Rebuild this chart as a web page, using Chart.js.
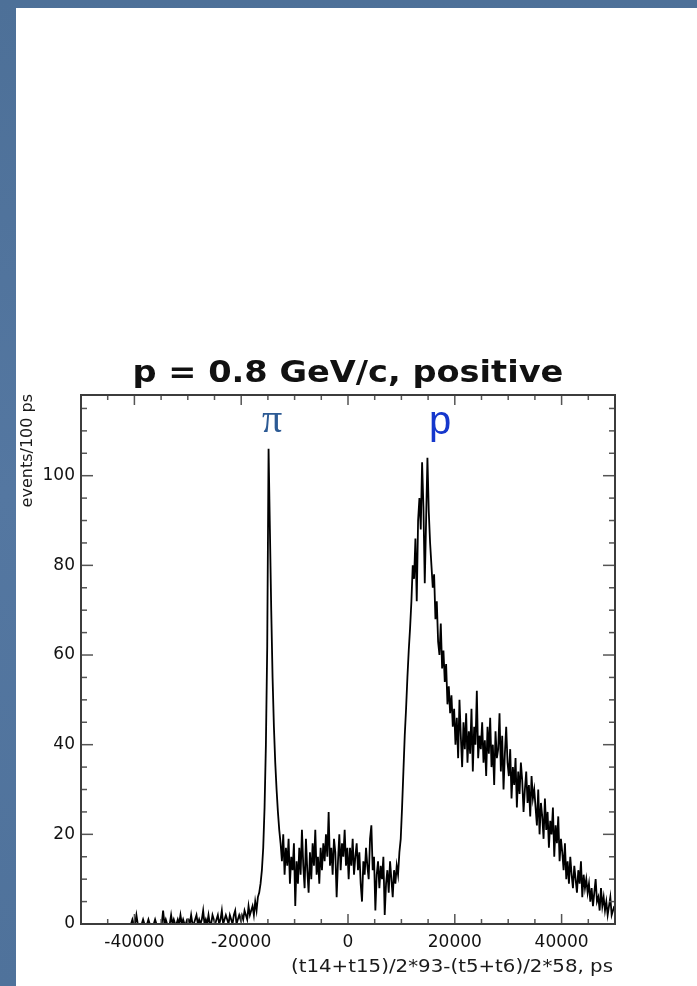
<!DOCTYPE html>
<html>
<head>
<meta charset="utf-8">
<script src="https://cdn.jsdelivr.net/npm/chart.js@4.4.1/dist/chart.umd.min.js"></script>
<style>
  html, body { margin: 0; padding: 0; }
  body { width: 697px; height: 986px; overflow: hidden; position: relative;
         background: linear-gradient(180deg, #4d7098 0%, #5477a1 50%, #4f729b 100%); }
  #panel { position: absolute; left: 16px; top: 8px; right: 0; bottom: 0; background: #fff; }
  #c { position: absolute; left: 0; top: 0; }
</style>
</head>
<body>
<div id="panel"></div>
<canvas id="c" width="697" height="986"></canvas>
<script>
// ─── DATA ───
// histogram in 250 ps steps (bin centres from -49875 ps)
const binStart = -49875;
const binWidth = 250;
const counts = [
    // -50000 .. -45000
    0, 0, 0, 0, 0, 0, 0, 0, 0, 0, 0, 0, 0, 0, 0, 0, 0, 0, 0, 0,
    // -45000 .. -40000
    0, 0, 0, 0, 0, 0, 0, 0, 0, 0, 0, 0, 0, 0, 0, 0, 0, 0, 1, 0,
    // -40000 .. -35000
    0, 2, 0, 0, 0, 0, 1, 0, 0, 0, 1, 0, 0, 0, 0, 1, 0, 0, 0, 0,
    // -35000 .. -30000
    0, 3, 0, 1, 0, 0, 0, 2, 0, 1, 0, 0, 1, 0, 2, 0, 1, 0, 0, 1,
    // -30000 .. -25000
    1, 0, 2, 0, 0, 1, 2, 0, 1, 0, 1, 3, 0, 1, 0, 2, 0, 0, 2, 1,
    // -25000 .. -20000
    0, 1, 2, 0, 1, 3, 0, 1, 2, 1, 0, 2, 1, 0, 2, 3, 0, 1, 2, 1,
    // -20000 .. -15000
    2, 1, 3, 2, 1, 4, 2, 3, 4, 2, 5, 3, 6, 7, 9, 12, 17, 26, 40, 62,
    // -15000 .. -10000
    106, 88, 70, 55, 44, 36, 30, 25, 21, 18, 14, 20, 11, 17, 13, 19, 9, 15, 12, 18,
    // -10000 .. -5000
    4, 14, 9, 17, 11, 21, 13, 8, 19, 12, 7, 16, 10, 18, 13, 21, 11, 15, 9, 17,
    // -5000 .. 0
    12, 18, 14, 20, 15, 25, 13, 17, 11, 19, 16, 6, 14, 20, 12, 18, 15, 21, 13, 17,
    // 0 .. 5000
    10, 17, 13, 19, 11, 15, 18, 12, 16, 9, 5, 14, 11, 17, 13, 10, 19, 22, 12, 15,
    // 5000 .. 10000
    3, 11, 14, 8, 13, 10, 15, 2, 9, 12, 7, 14, 10, 6, 12, 9, 13, 11, 16, 19,
    // 10000 .. 15000
    26, 34, 42, 48, 55, 61, 66, 72, 80, 77, 86, 72, 90, 95, 88, 103, 93, 76, 90, 104,
    // 15000 .. 20000
    92, 85, 80, 75, 78, 68, 72, 63, 60, 67, 57, 61, 54, 58, 49, 53, 47, 51, 44, 48,
    // 20000 .. 25000
    40, 46, 37, 50, 42, 35, 45, 39, 47, 36, 43, 38, 48, 34, 44, 40, 52, 37, 42, 39,
    // 25000 .. 30000
    45, 36, 41, 33, 44, 38, 46, 35, 40, 31, 43, 37, 39, 47, 34, 42, 30, 38, 44, 36,
    // 30000 .. 35000
    33, 39, 28, 35, 31, 37, 26, 34, 29, 36, 32, 25, 30, 34, 27, 31, 24, 33, 28, 30,
    // 35000 .. 40000
    26, 22, 30, 20, 27, 24, 19, 28, 21, 25, 17, 23, 20, 26, 15, 22, 18, 24, 14, 19,
    // 40000 .. 45000
    16, 12, 18, 10, 14, 9, 15, 11, 8, 13, 10, 7, 12, 9, 14, 6, 11, 8, 10, 7,
    // 45000 .. 50000
    9, 5, 8, 4, 7, 10, 5, 6, 3, 8, 4, 6, 3, 5, 2, 4, 6, 2, 3, 4
];
const xTickLabels = [-40000, -20000, 0, 20000, 40000];
const yTickLabels = [0, 20, 40, 60, 80, 100];
const xRange = [-50000, 50000];
const yRange = [0, 118];
const xMinorStep = 5000, xMajorStep = 20000;
const yMinorStep = 5, yMajorStep = 20;

const titleText = 'p = 0.8 GeV/c, positive';
const xTitle = '(t14+t15)/2*93-(t5+t6)/2*58, ps';
const yTitle = 'events/100 ps';

// ─── FRAME, INWARD TICKS, LABELS ───
const decor = {
    id: 'decor',
    afterDraw(chart) {
        const { ctx, chartArea: a, scales: { x, y } } = chart;
        ctx.save();
        const seg = (x1, y1, x2, y2) => { ctx.beginPath(); ctx.moveTo(x1, y1); ctx.lineTo(x2, y2); ctx.stroke(); };

        ctx.strokeStyle = '#555';
        ctx.lineWidth = 1.5;
        for (let v = xRange[0]; v <= xRange[1]; v += xMinorStep) {
            const px = x.getPixelForValue(v);
            const len = v % xMajorStep === 0 ? 10 : 5;
            seg(px, a.bottom, px, a.bottom - len);
            seg(px, a.top, px, a.top + len);
        }
        for (let v = yRange[0]; v <= yRange[1]; v += yMinorStep) {
            const py = y.getPixelForValue(v);
            const len = v % yMajorStep === 0 ? 12 : 6;
            seg(a.left, py, a.left + len, py);
            seg(a.right, py, a.right - len, py);
        }

        ctx.strokeStyle = '#3c3c3c';
        ctx.lineWidth = 2;
        ctx.strokeRect(a.left, a.top, a.right - a.left, a.bottom - a.top);

        // title (slightly widened like the original)
        ctx.fillStyle = '#111';
        ctx.font = 'bold 30px "DejaVu Sans"';
        ctx.textAlign = 'center';
        ctx.textBaseline = 'alphabetic';
        ctx.save();
        ctx.translate(348, 382);
        ctx.scale(1.12, 1);
        ctx.fillText(titleText, 0, 0);
        ctx.restore();

        // x axis title
        ctx.font = '18px "DejaVu Sans"';
        ctx.textAlign = 'right';
        ctx.fillStyle = '#1a1a1a';
        ctx.save();
        ctx.translate(613, 972);
        ctx.scale(1.1, 1);
        ctx.fillText(xTitle, 0, 0);
        ctx.restore();

        // y axis title
        ctx.save();
        ctx.translate(28, 394);
        ctx.rotate(-Math.PI / 2);
        ctx.font = '16px "DejaVu Sans"';
        ctx.textAlign = 'right';
        ctx.textBaseline = 'middle';
        ctx.fillText(yTitle, 0, 0);
        ctx.restore();

        // particle labels
        ctx.textAlign = 'center';
        ctx.textBaseline = 'alphabetic';
        ctx.fillStyle = '#2c5a94';
        ctx.font = '40px "Liberation Serif"';
        ctx.fillText('π', 272, 432);
        ctx.fillStyle = '#1537cc';
        ctx.font = '40px "Liberation Sans"';
        ctx.fillText('p', 440, 434);

        ctx.restore();
    }
};

// ─── CHART ───
const ctx = document.getElementById('c').getContext('2d');
new Chart(ctx, {
    type: 'line',
    data: {
        datasets: [{
            data: counts.map((c, i) => ({ x: binStart + i * binWidth, y: c })),
            borderColor: '#000',
            borderWidth: 1.8,
            pointRadius: 0,
            tension: 0,
            fill: false
        }]
    },
    options: {
        responsive: false,
        animation: false,
        layout: { padding: { top: 395, right: 82, left: 0, bottom: 0 } },
        plugins: { legend: { display: false }, tooltip: { enabled: false } },
        scales: {
            x: {
                type: 'linear', min: xRange[0], max: xRange[1],
                grid: { display: false, drawTicks: false }, border: { display: false },
                afterBuildTicks: s => { s.ticks = xTickLabels.map(v => ({ value: v })); },
                afterFit: s => { s.height = 62; },
                ticks: { color: '#111', padding: 8, maxRotation: 0, autoSkip: false,
                         font: { family: 'DejaVu Sans', size: 17 }, callback: v => String(v) }
            },
            y: {
                type: 'linear', min: yRange[0], max: yRange[1],
                grid: { display: false, drawTicks: false }, border: { display: false },
                afterBuildTicks: s => { s.ticks = yTickLabels.map(v => ({ value: v })); },
                afterFit: s => { s.width = 81; },
                ticks: { color: '#111', padding: 6, autoSkip: false,
                         font: { family: 'DejaVu Sans', size: 17 }, callback: v => String(v) }
            }
        }
    },
    plugins: [decor]
});
</script>
</body>
</html>
